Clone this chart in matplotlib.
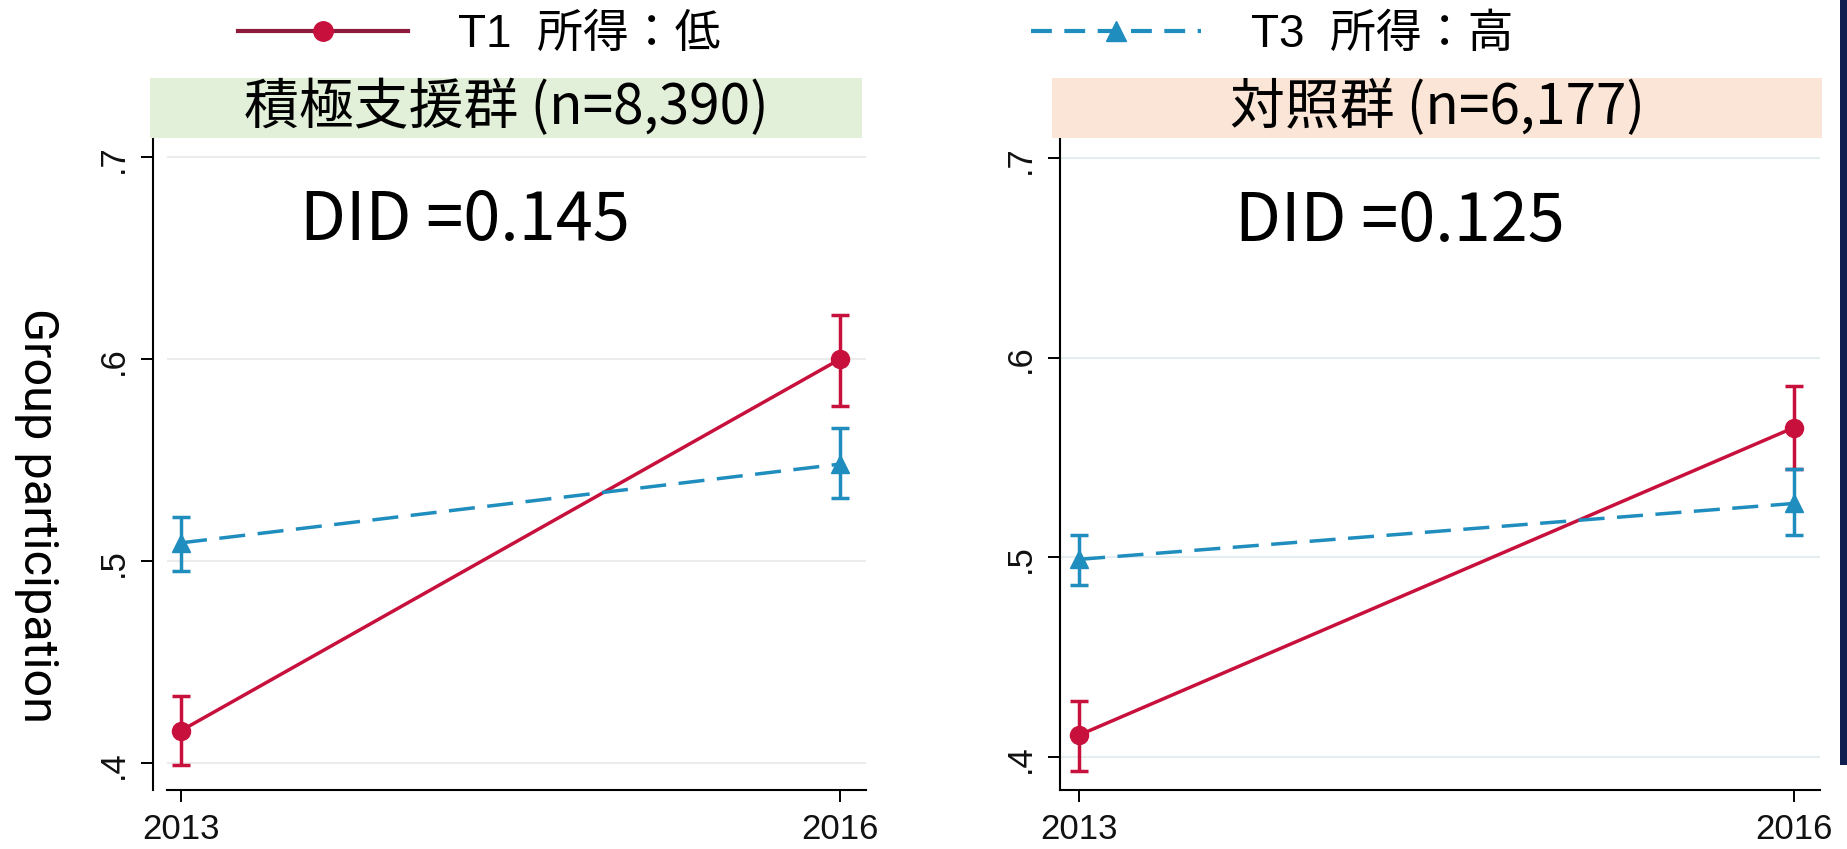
import matplotlib
matplotlib.use('Agg')
import matplotlib.pyplot as plt
from matplotlib.lines import Line2D
from matplotlib.patches import Rectangle

W, H = 1847, 849

years = [2013, 2016]

# 積極支援群
sup_t1 = [0.416, 0.600]
sup_t1_lo = [0.399, 0.577]
sup_t1_hi = [0.433, 0.622]
sup_t3 = [0.509, 0.548]
sup_t3_lo = [0.495, 0.531]
sup_t3_hi = [0.522, 0.566]

# 対照群
ctl_t1 = [0.411, 0.565]
ctl_t1_lo = [0.393, 0.544]
ctl_t1_hi = [0.428, 0.586]
ctl_t3 = [0.499, 0.527]
ctl_t3_lo = [0.486, 0.511]
ctl_t3_hi = [0.511, 0.544]

panel_titles = ['積極支援群 (n=8,390)', '対照群 (n=6,177)']
did_labels = ['DID =0.145', 'DID =0.125']
legend_labels = ['T1  所得：低', 'T3  所得：高']
yticks = [0.4, 0.5, 0.6, 0.7]
ytick_labels = ['.4', '.5', '.6', '.7']
ylabel = 'Group participation'

RED = '#c8103c'
RED_DARK = '#8e1b3c'
BLUE = '#1f8dbd'
CJK = ['Noto Sans CJK JP', 'DejaVu Sans']
LATIN = ['Liberation Sans', 'Noto Sans CJK JP', 'DejaVu Sans']


def px(x0, y0, x1, y1):
    # pixel box (top-left origin) -> figure fraction rect
    return [x0 / W, 1 - y1 / H, (x1 - x0) / W, (y1 - y0) / H]


def err(mean, lo, hi):
    return [[m - l for m, l in zip(mean, lo)], [h - m for m, h in zip(mean, hi)]]


fig = plt.figure(figsize=(W / 100, H / 100), dpi=100)
fig.patch.set_facecolor('white')

panels = [
    dict(rect=px(167, 139, 866, 790), xlim=(2012.936, 2016.118), ylim=(0.3866, 0.709),
         t1=(sup_t1, sup_t1_lo, sup_t1_hi), t3=(sup_t3, sup_t3_lo, sup_t3_hi),
         grid='#ececec', outward=10),
    dict(rect=px(1060, 139, 1820, 790), xlim=(2012.92, 2016.109), ylim=(0.3835, 0.7095),
         t1=(ctl_t1, ctl_t1_lo, ctl_t1_hi), t3=(ctl_t3, ctl_t3_lo, ctl_t3_hi),
         grid='#e4edf0', outward=0),
]

for p in panels:
    ax = fig.add_axes(p['rect'])
    # spine position first, it resets the ticks
    for s in ['top', 'right']:
        ax.spines[s].set_visible(False)
    for s in ['left', 'bottom']:
        ax.spines[s].set_linewidth(1.5)
    if p['outward']:
        ax.spines['left'].set_position(('outward', p['outward']))

    m, lo, hi = p['t1']
    ax.errorbar(years, m, yerr=err(m, lo, hi), color=RED, lw=2.5, marker='o', ms=13,
                elinewidth=2.5, capsize=6.5, capthick=2.5, zorder=3)
    m, lo, hi = p['t3']
    ax.errorbar(years, m, yerr=err(m, lo, hi), color=BLUE, lw=2.5, ls=(0, (7.5, 3.6)),
                marker='^', ms=13, elinewidth=2.5, capsize=6.5, capthick=2.5, zorder=4)
    ax.set_xlim(p['xlim'])
    ax.set_ylim(p['ylim'])
    ax.set_xticks(years)
    ax.set_xticklabels([str(y) for y in years], fontsize=25, family=LATIN, color='#111111')
    ax.set_yticks(yticks)
    ax.set_yticklabels(ytick_labels, fontsize=25, family=LATIN, rotation=90, color='#111111')
    ax.tick_params(length=8.6, width=1.4, pad=8, direction='out', color='black')
    ax.grid(axis='y', color=p['grid'], lw=1.5)
    ax.set_axisbelow(True)

# title strips
boxes = [(150, 78, 862, 138, '#e2efd9'), (1052, 78, 1822, 138, '#fbe5d6')]
for (x0, y0, x1, y1, c), t in zip(boxes, panel_titles):
    fig.add_artist(Rectangle((x0 / W, 1 - y1 / H), (x1 - x0) / W, (y1 - y0) / H,
                             transform=fig.transFigure, facecolor=c, edgecolor='none'))
    fig.text((x0 + x1) / 2 / W, 1 - (y0 + y1) / 2 / H, t, ha='center', va='center',
             fontsize=39.5, family=CJK, color='black')

# DID annotations
for (x, y), t in zip([(465, 240), (1400, 241)], did_labels):
    fig.text(x / W, 1 - y / H, t, ha='center', va='baseline', fontsize=48,
             family=CJK, color='black')

fig.text(37 / W, 1 - 515 / H, ylabel, rotation=-90, ha='center', va='center',
         fontsize=35, family=['Roboto', 'DejaVu Sans'], color='black')

# legend entries
handles = [
    Line2D([], [], color=RED_DARK, lw=3, marker='o', ms=14, mfc=RED, mec=RED),
    Line2D([], [], color=BLUE, lw=3, ls=(0, (5, 3)), marker='^', ms=14, mfc=BLUE, mec=BLUE),
]
for h, lab, x in zip(handles, legend_labels, [238, 1031]):
    fig.legend(handles=[h], labels=[lab], loc='center left',
               bbox_to_anchor=(x / W, 1 - 35 / H), frameon=False, borderpad=0,
               borderaxespad=0, handlelength=3.7, handletextpad=1.1, numpoints=1,
               prop=dict(family=LATIN, size=33))

# navy edge strip
fig.add_artist(Rectangle((1840 / W, 1 - 765 / H), 7 / W, 765 / H, transform=fig.transFigure,
                         facecolor='#0f2050', edgecolor='none'))

fig.savefig('out.png', dpi=100)
